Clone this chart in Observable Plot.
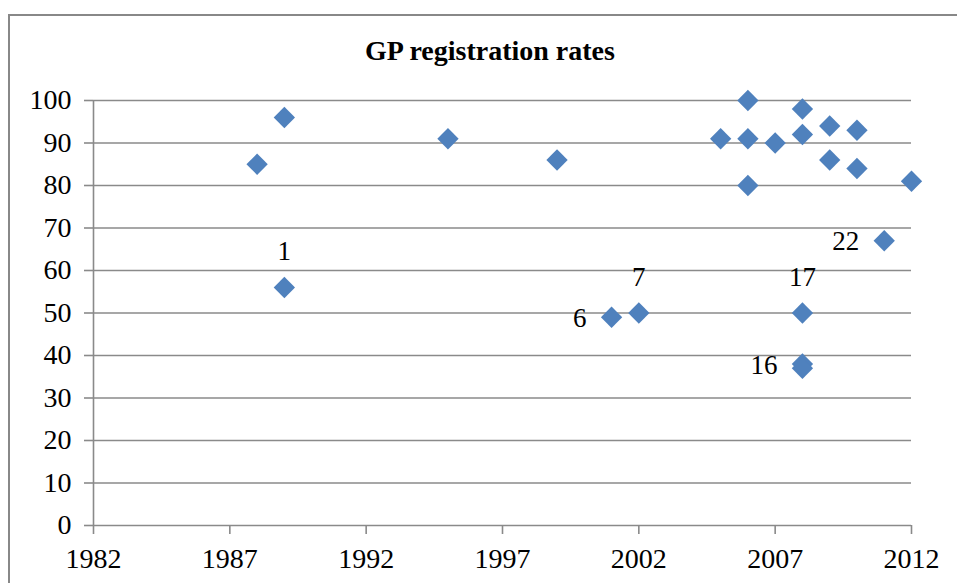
<!DOCTYPE html>
<html>
<head>
<meta charset="utf-8">
<script src="https://cdn.jsdelivr.net/npm/d3@7"></script>
<script src="https://cdn.jsdelivr.net/npm/@observablehq/plot@0.6"></script>
<style>
  html, body { margin: 0; padding: 0; background: #fff; }
  #wrap { position: relative; width: 957px; height: 583px; overflow: hidden; background: #fff; }
  #frame { position: absolute; left: 8px; top: 14px; width: 1200px; height: 1200px; border: 2px solid #888; box-sizing: border-box; }
  #title { position: absolute; left: 0; top: 35px; width: 980px; text-align: center; font-family: 'Liberation Serif', 'Times New Roman', serif; font-weight: bold; font-size: 28px; color: #000; }
  #chart { position: absolute; left: 0; top: 0; }
  #chart svg text { font-family: 'Liberation Serif', 'Times New Roman', serif !important; }
</style>
</head>
<body>
<div id="wrap">
  <div id="frame"></div>
  <div id="title">GP registration rates</div>
  <div id="chart"></div>
</div>
<script>
const years  = [1988, 1989, 1989, 1995, 1999, 2001, 2002, 2005, 2006, 2006, 2006, 2007, 2008, 2008, 2008, 2008, 2008, 2009, 2009, 2010, 2010, 2011, 2012];
const rates  = [85,   96,   56,   91,   86,   49,   50,   91,   100,  91,   80,   90,   98,   92,   50,   38,   37,   94,   86,   93,   84,   67,   81];
const labels = ["",   "",   "1",  "",   "",   "6",  "7",  "",   "",   "",   "",   "",   "",   "",   "17", "16", "",   "",   "",   "",   "",   "22", ""];
const xTicks = [1982, 1987, 1992, 1997, 2002, 2007, 2012];
const yTicks = [0, 10, 20, 30, 40, 50, 60, 70, 80, 90, 100];

const points = years.map((y, i) => ({year: y, rate: rates[i], label: labels[i]}));
// label placement: some above the marker, some to its left
const leftLabels = new Set(["6", "16", "22"]);
const above = points.filter(d => d.label && !leftLabels.has(d.label));
const left = points.filter(d => d.label && leftLabels.has(d.label));

const font = "'Liberation Serif', 'Times New Roman', serif";
const gridColor = "#8a8a8a";
const blue = "#4F81BD";

const chart = Plot.plot({
  width: 957,
  height: 583,
  marginLeft: 93,
  marginRight: 46,
  marginTop: 100,
  marginBottom: 58,
  style: {fontFamily: font, fontSize: "28px", color: "#000", background: "transparent", overflow: "visible"},
  x: {domain: [xTicks[0], xTicks[xTicks.length - 1]], ticks: xTicks},
  y: {domain: [yTicks[0], yTicks[yTicks.length - 1]], ticks: yTicks},
  marks: [
    Plot.gridY(yTicks, {stroke: gridColor, strokeOpacity: 1, strokeWidth: 1.6}),
    Plot.ruleX([xTicks[0]], {stroke: gridColor, strokeWidth: 1.6}),
    Plot.axisY(yTicks, {anchor: "left", tickSize: 9, tickPadding: 13, stroke: gridColor, strokeWidth: 1.6, fontSize: 28, fontFamily: font, label: null, tickFormat: d => String(d)}),
    Plot.axisX(xTicks, {anchor: "bottom", tickSize: 9, tickPadding: 14, stroke: gridColor, strokeWidth: 1.6, fontSize: 28, fontFamily: font, label: null, tickFormat: d => String(d)}),
    Plot.dot(points, {x: "year", y: "rate", symbol: "diamond2", r: 9.6, fill: blue, stroke: null}),
    Plot.text(above, {x: "year", y: "rate", text: "label", dy: -36, fontSize: 27, fontFamily: font, fill: "#000"}),
    Plot.text(left, {x: "year", y: "rate", text: "label", dx: -25, dy: 1, textAnchor: "end", fontSize: 27, fontFamily: font, fill: "#000"})
  ]
});
document.getElementById("chart").appendChild(chart);
</script>
</body>
</html>
